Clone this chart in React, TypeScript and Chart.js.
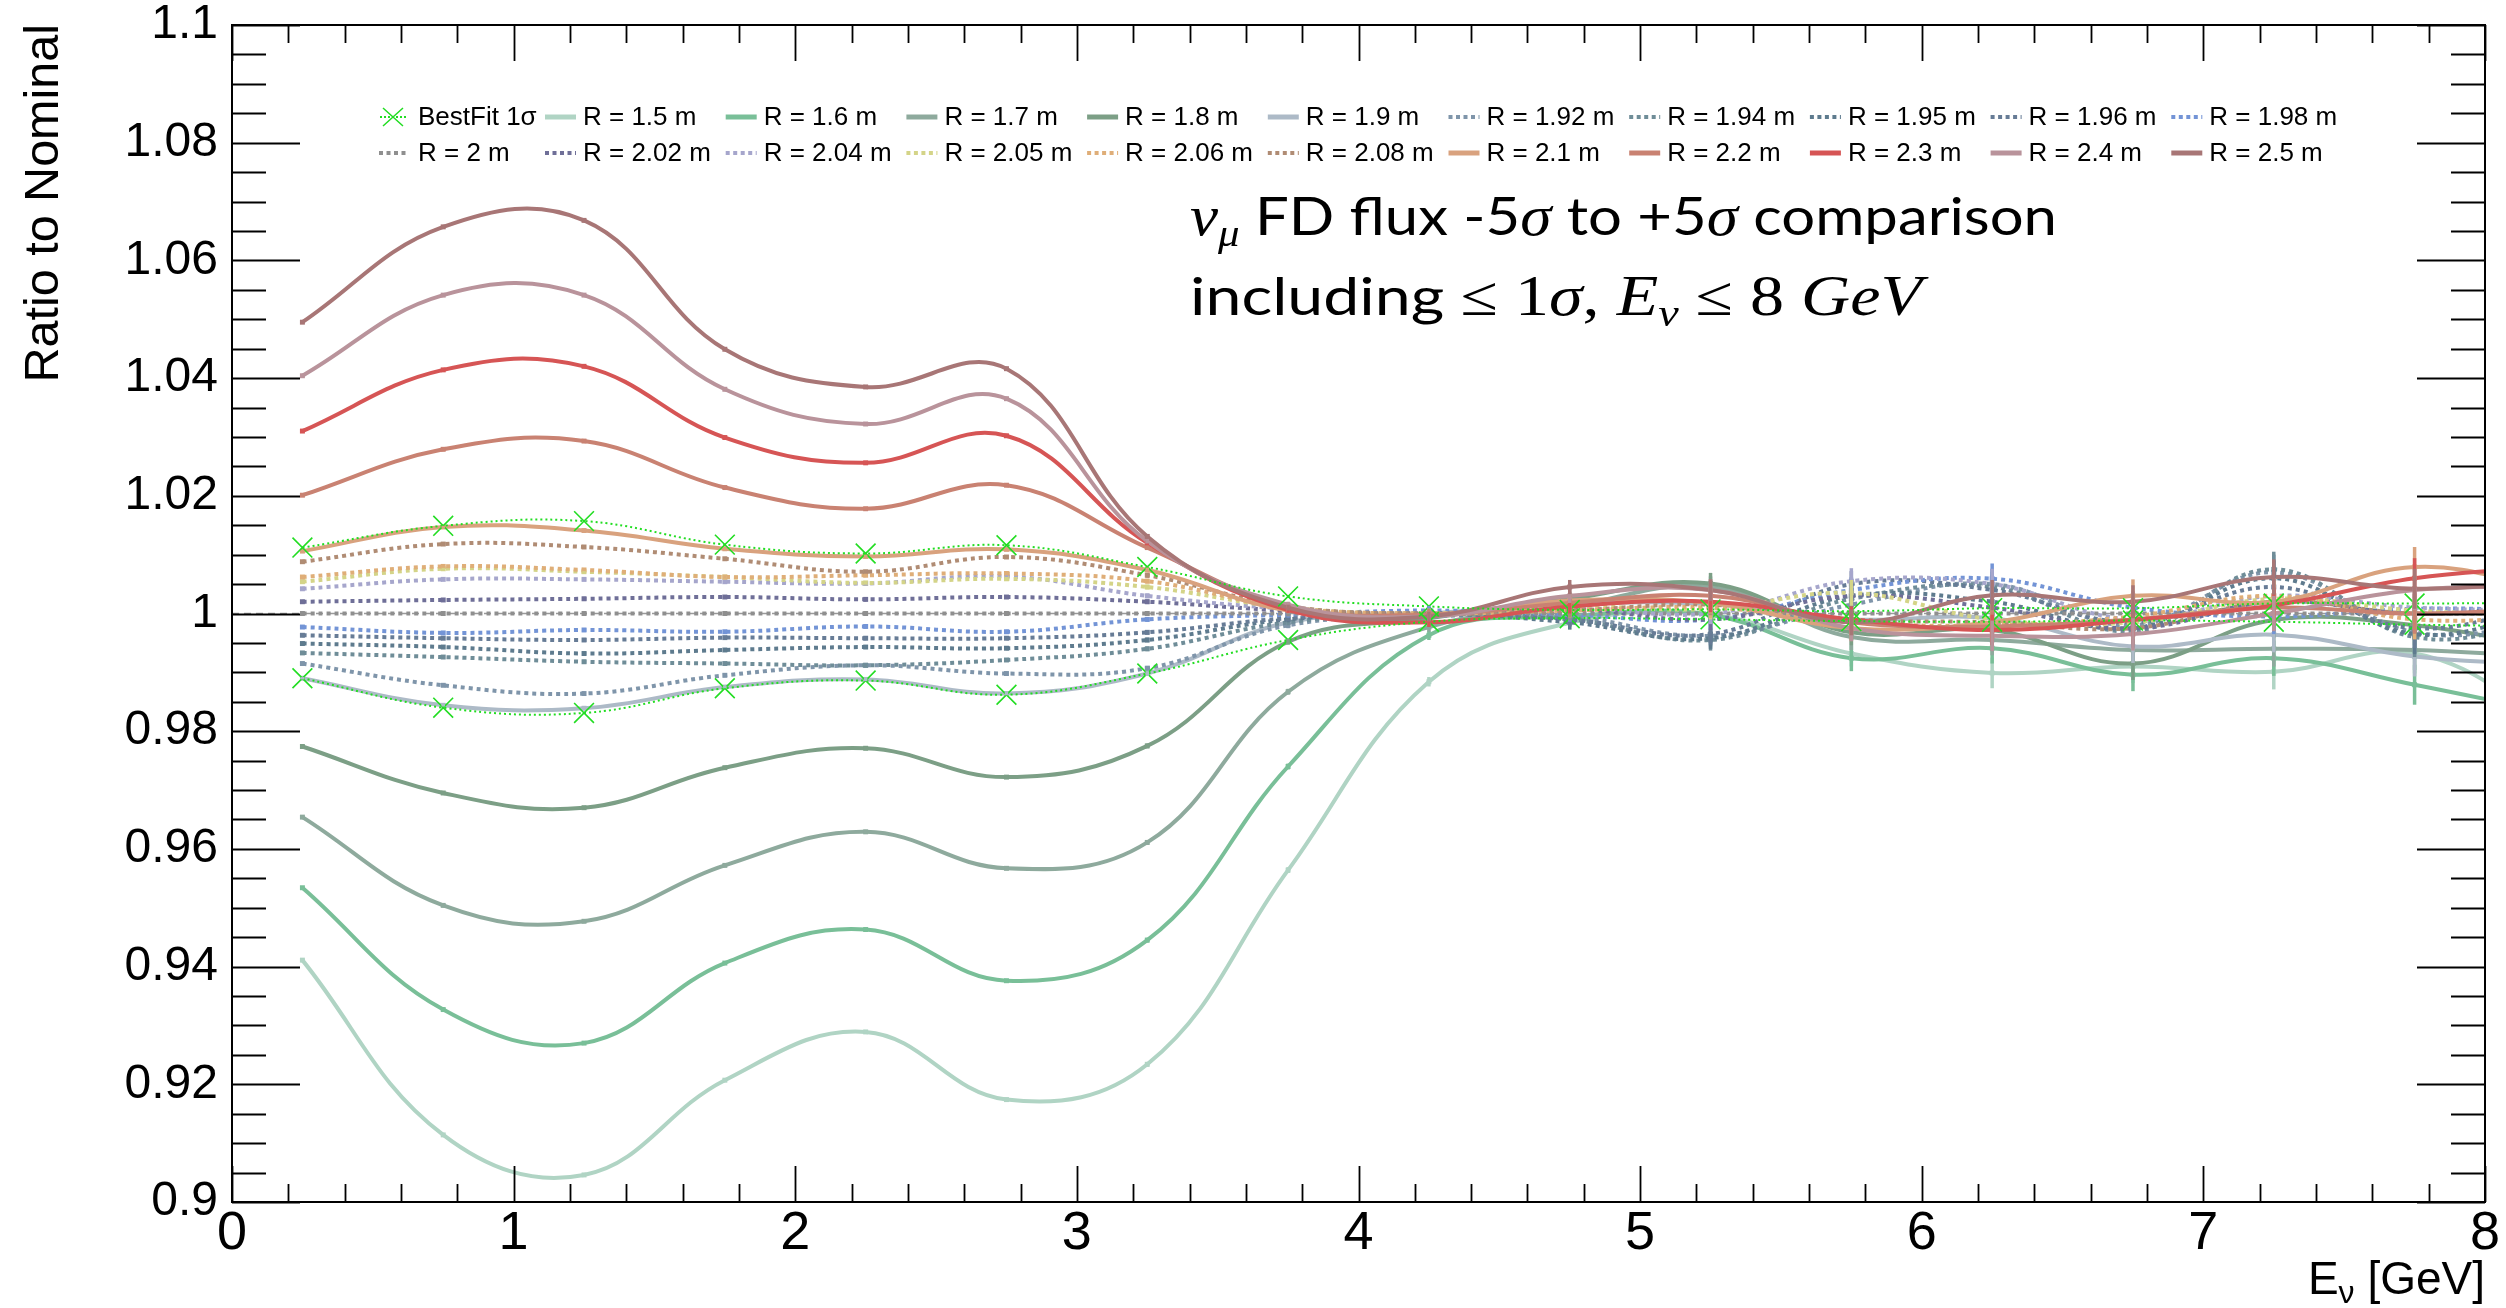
import React, { useEffect, useRef } from 'react';
import { Chart, registerables } from 'chart.js';

Chart.register(...registerables);

// ---------------- data ----------------
const E_BINS = [0.25, 0.75, 1.25, 1.75, 2.25, 2.75, 3.25, 3.75, 4.25, 4.75, 5.25, 5.75, 6.25, 6.75, 7.25, 7.75, 8.25];

const BESTFIT_UP = [1.0112, 1.0149, 1.0157, 1.0117, 1.0102, 1.0116, 1.0079, 1.0029, 1.0012, 1.0006, 1.0007, 1.0004, 1.0009, 1.0009, 1.0017, 1.0017, 1.0018];
const BESTFIT_LO = [0.9890, 0.9840, 0.9831, 0.9873, 0.9886, 0.9862, 0.9898, 0.9955, 0.9986, 0.9992, 0.9990, 0.9987, 0.9986, 0.9988, 0.9986, 0.9981, 0.9978];

const R150 = [0.9411, 0.9114, 0.9046, 0.9207, 0.9289, 0.9174, 0.9234, 0.9564, 0.9884, 0.9984, 0.9998, 0.9932, 0.9899, 0.9910, 0.9901, 0.9932, 0.9815];
const R160 = [0.9534, 0.9327, 0.9270, 0.9406, 0.9463, 0.9376, 0.9445, 0.9740, 0.9963, 0.9995, 0.9998, 0.9924, 0.9941, 0.9896, 0.9924, 0.9879, 0.9830];
const R170 = [0.9654, 0.9504, 0.9477, 0.9572, 0.9629, 0.9567, 0.9611, 0.9867, 0.9977, 1.0012, 1.0045, 0.9960, 0.9955, 0.9938, 0.9940, 0.9938, 0.9925];
const R180 = [0.9774, 0.9695, 0.9670, 0.9738, 0.9771, 0.9722, 0.9775, 0.9952, 0.9992, 1.0025, 1.0051, 0.9968, 0.9972, 0.9915, 0.9989, 0.9980, 0.9940];
const R190 = [0.9890, 0.9844, 0.9839, 0.9875, 0.9888, 0.9864, 0.9898, 0.9985, 1.0000, 1.0016, 1.0016, 0.9990, 0.9992, 0.9944, 0.9964, 0.9927, 0.9912];
const R192 = [0.9915, 0.9878, 0.9864, 0.9895, 0.9912, 0.9898, 0.9907, 0.9980, 0.9995, 0.9995, 0.9962, 1.0015, 1.0050, 0.9980, 1.0070, 0.9968, 0.9985];
const R194 = [0.9933, 0.9926, 0.9918, 0.9915, 0.9912, 0.9921, 0.9940, 0.9985, 0.9998, 0.9990, 0.9955, 1.0025, 1.0045, 0.9970, 1.0075, 0.9960, 0.9990];
const R195 = [0.9949, 0.9943, 0.9932, 0.9938, 0.9943, 0.9941, 0.9955, 0.9990, 1.0000, 0.9985, 0.9958, 1.0030, 1.0020, 0.9975, 1.0060, 0.9965, 1.0010];
const R196 = [0.9963, 0.9958, 0.9955, 0.9959, 0.9958, 0.9958, 0.9968, 0.9992, 1.0000, 0.9990, 0.9965, 1.0050, 1.0040, 0.9985, 1.0045, 0.9975, 1.0020];
const R198 = [0.9977, 0.9967, 0.9972, 0.9969, 0.9978, 0.9969, 0.9990, 0.9998, 1.0005, 0.9998, 0.9990, 1.0040, 1.0059, 1.0010, 0.9995, 1.0008, 1.0005];
const R200 = [1.0, 1.0, 1.0, 1.0, 1.0, 1.0, 1.0, 1.0, 1.0, 1.0, 1.0, 1.0, 1.0, 1.0, 1.0, 1.0, 1.0];
const R202 = [1.0020, 1.0023, 1.0025, 1.0028, 1.0024, 1.0028, 1.0020, 1.0005, 1.0000, 1.0008, 0.9990, 1.0030, 1.0010, 0.9975, 1.0020, 1.0000, 1.0015];
const R204 = [1.0042, 1.0058, 1.0058, 1.0054, 1.0051, 1.0063, 1.0030, 1.0008, 1.0000, 1.0010, 1.0000, 1.0055, 1.0050, 0.9990, 1.0030, 1.0010, 1.0005];
const R205 = [1.0054, 1.0076, 1.0071, 1.0062, 1.0052, 1.0059, 1.0045, 1.0010, 1.0000, 1.0012, 1.0008, 1.0035, 0.9990, 0.9985, 1.0025, 1.0005, 0.9995];
const R206 = [1.0062, 1.0080, 1.0074, 1.0062, 1.0065, 1.0068, 1.0055, 1.0010, 1.0000, 1.0005, 1.0010, 0.9985, 0.9980, 0.9995, 1.0030, 0.9990, 0.9995];
const R208 = [1.0088, 1.0118, 1.0113, 1.0093, 1.0071, 1.0096, 1.0065, 1.0012, 1.0000, 1.0005, 1.0015, 0.9990, 0.9985, 0.9975, 1.0020, 1.0000, 1.0010];
const R210 = [1.0106, 1.0147, 1.0141, 1.0110, 1.0097, 1.0109, 1.0074, 1.0005, 0.9998, 1.0022, 1.0018, 0.9975, 0.9985, 1.0030, 1.0020, 1.0079, 1.0040];
const R220 = [1.0201, 1.0279, 1.0293, 1.0214, 1.0178, 1.0218, 1.0112, 1.0012, 0.9998, 1.0018, 1.0030, 0.9985, 0.9978, 0.9990, 1.0010, 1.0000, 1.0010];
const R230 = [1.0310, 1.0414, 1.0420, 1.0299, 1.0256, 1.0302, 1.0120, 1.0006, 0.9985, 1.0012, 1.0020, 0.9990, 0.9972, 0.9989, 1.0014, 1.0060, 1.0080];
const R240 = [1.0404, 1.0541, 1.0541, 1.0381, 1.0322, 1.0365, 1.0123, 1.0015, 0.9995, 1.0030, 1.0040, 0.9975, 0.9962, 0.9965, 1.0000, 1.0040, 1.0045];
const R250 = [1.0495, 1.0657, 1.0668, 1.0449, 1.0385, 1.0416, 1.0131, 1.0010, 0.9995, 1.0045, 1.0040, 0.9985, 1.0031, 1.0020, 1.0062, 1.0042, 1.0055];

// statistical errors per energy bin
const ERRORS = [0.0002, 0.0002, 0.0002, 0.0002, 0.0003, 0.0003, 0.0004, 0.0005, 0.0008, 0.0012, 0.0018, 0.0022, 0.0026, 0.0028, 0.0030, 0.0034, 0.0036];

const NOMINAL_LINE_X = [0, 8];
const NOMINAL_LINE_Y = [1, 1];

const BESTFIT_LABEL = 'BestFit 1σ';
const SERIES_LABELS = [
  'R = 1.5 m', 'R = 1.6 m', 'R = 1.7 m', 'R = 1.8 m', 'R = 1.9 m', 'R = 1.92 m', 'R = 1.94 m', 'R = 1.95 m',
  'R = 1.96 m', 'R = 1.98 m', 'R = 2 m', 'R = 2.02 m', 'R = 2.04 m', 'R = 2.05 m', 'R = 2.06 m', 'R = 2.08 m',
  'R = 2.1 m', 'R = 2.2 m', 'R = 2.3 m', 'R = 2.4 m', 'R = 2.5 m',
];
const SERIES_VALUES = [
  R150, R160, R170, R180, R190, R192, R194, R195, R196, R198, R200,
  R202, R204, R205, R206, R208, R210, R220, R230, R240, R250,
];

const X_TICK_LABELS = ['0', '1', '2', '3', '4', '5', '6', '7', '8'];
const Y_AXIS_TITLE = 'Ratio to Nominal';

// ---------------- styles ----------------
const SERIES_COLORS = [
  '#b0d4c4', '#79bf98', '#8eaa9d', '#7c9f86', '#adbac7', '#7f95aa', '#6f8d98', '#5e7b8e',
  '#677c96', '#7394d6', '#8f8f8f', '#6f6f98', '#a6a6cc', '#d4d488', '#dfae78', '#b08c74',
  '#d9a27e', '#c98272', '#d65555', '#b9939b', '#a87676',
];
const SERIES_DOTTED = [
  false, false, false, false, false, true, true, true, true, true, true,
  true, true, true, true, true, false, false, false, false, false,
];
const GREEN = '#22dd22';
const FONT = '"Liberation Sans", Arial, sans-serif';

const rootPlugin = {
  id: 'rootStyle',
  afterDatasetsDraw(chart: any) {
    const ctx = chart.ctx;
    const xs = chart.scales.x;
    const ys = chart.scales.y;
    const { left, right, top, bottom } = chart.chartArea;
    ctx.save();
    ctx.beginPath();
    ctx.rect(left, top, right - left, bottom - top);
    ctx.clip();
    ctx.lineWidth = 3.5;
    ctx.setLineDash([]);
    SERIES_VALUES.forEach((vals, si) => {
      ctx.strokeStyle = SERIES_COLORS[si];
      vals.forEach((v, i) => {
        const px = xs.getPixelForValue(E_BINS[i]);
        const y1 = ys.getPixelForValue(v - ERRORS[i]);
        const y2 = ys.getPixelForValue(v + ERRORS[i]);
        ctx.beginPath();
        ctx.moveTo(px, y1);
        ctx.lineTo(px, y2);
        ctx.stroke();
      });
    });
    ctx.restore();
  },
  afterDraw(chart: any) {
    const ctx = chart.ctx;
    const xs = chart.scales.x;
    const ys = chart.scales.y;
    const { left, right, top, bottom } = chart.chartArea;
    ctx.save();
    // frame
    ctx.strokeStyle = '#000';
    ctx.lineWidth = 2;
    ctx.setLineDash([]);
    ctx.strokeRect(left, top, right - left, bottom - top);
    // y ticks (major 0.02, minor 0.005)
    ctx.lineWidth = 1.8;
    for (let k = 0; k <= 40; k++) {
      const v = ys.min + k * 0.005;
      const py = Math.round(ys.getPixelForValue(v)) + 0.5;
      const len = k % 4 === 0 ? 68 : 34;
      ctx.beginPath();
      ctx.moveTo(left, py);
      ctx.lineTo(left + len, py);
      ctx.moveTo(right, py);
      ctx.lineTo(right - len, py);
      ctx.stroke();
    }
    // x ticks (major 1, minor 0.2)
    for (let k = 0; k <= 40; k++) {
      const v = xs.min + k * 0.2;
      const px = Math.round(xs.getPixelForValue(v)) + 0.5;
      const len = k % 5 === 0 ? 36 : 18;
      ctx.beginPath();
      ctx.moveTo(px, bottom);
      ctx.lineTo(px, bottom - len);
      ctx.moveTo(px, top);
      ctx.lineTo(px, top + len);
      ctx.stroke();
    }

    // legend
    ctx.font = '26px ' + FONT;
    ctx.fillStyle = '#000';
    ctx.textBaseline = 'alphabetic';
    ctx.textAlign = 'left';
    const entries: any[] = [{ label: BESTFIT_LABEL, color: GREEN, bestfit: true }];
    SERIES_LABELS.forEach((l, i) => entries.push({ label: l, color: SERIES_COLORS[i], dotted: SERIES_DOTTED[i] }));
    entries.forEach((e, idx) => {
      const row = Math.floor(idx / 11);
      const col = idx % 11;
      const tx = col === 0 ? 418 : 583 + (col - 1) * 180.7;
      const base = row === 0 ? 125 : 161;
      const ly = base - 8;
      if (e.bestfit) {
        ctx.strokeStyle = GREEN;
        ctx.lineWidth = 2;
        ctx.setLineDash([2, 2]);
        ctx.beginPath();
        ctx.moveTo(380, ly);
        ctx.lineTo(407, ly);
        ctx.stroke();
        ctx.setLineDash([]);
        ctx.lineWidth = 1.5;
        ctx.beginPath();
        ctx.moveTo(383, ly - 9);
        ctx.lineTo(403, ly + 9);
        ctx.moveTo(403, ly - 9);
        ctx.lineTo(383, ly + 9);
        ctx.stroke();
      } else {
        const x0 = col === 0 ? 379 : tx - 38;
        const x1 = col === 0 ? 408 : tx - 7;
        ctx.strokeStyle = e.color;
        ctx.lineWidth = e.dotted ? 4 : 5;
        ctx.setLineDash(e.dotted ? [4, 3.5] : []);
        ctx.beginPath();
        ctx.moveTo(x0, ly);
        ctx.lineTo(x1, ly);
        ctx.stroke();
        ctx.setLineDash([]);
      }
      ctx.fillStyle = '#000';
      ctx.fillText(e.label, tx, base);
    });

    // annotation text
    const drawRuns = (runs: any[], x: number, baseline: number, target: number) => {
      let total = 0;
      runs.forEach((r) => { ctx.font = r.font; r.w = ctx.measureText(r.text).width; total += r.w; });
      const s = target / total;
      ctx.save();
      ctx.translate(x, baseline);
      ctx.scale(s, 1);
      let cx = 0;
      runs.forEach((r) => { ctx.font = r.font; ctx.fillText(r.text, cx, r.dy || 0); cx += r.w; });
      ctx.restore();
    };
    const LATO = '53px Lato, "Open Sans", sans-serif';
    const MI = 'italic 56px "Liberation Serif", serif';
    const MR = '56px "Liberation Serif", serif';
    const MS = 'italic 38px "Liberation Serif", serif';
    ctx.fillStyle = '#000';
    ctx.textAlign = 'left';
    drawRuns([
      { text: 'ν', font: MI },
      { text: 'μ', font: MS, dy: 11 },
      { text: ' FD flux -5', font: LATO },
      { text: 'σ', font: MI },
      { text: ' to +5', font: LATO },
      { text: 'σ', font: MI },
      { text: ' comparison', font: LATO },
    ], 1190, 235, 867);
    drawRuns([
      { text: 'including ', font: LATO },
      { text: '≤ 1', font: MR },
      { text: 'σ', font: MI },
      { text: ', ', font: MR },
      { text: 'E', font: MI },
      { text: 'ν', font: MS, dy: 11 },
      { text: ' ≤ 8 ', font: MR },
      { text: 'GeV', font: MI },
    ], 1190, 315, 732);

    // y axis title
    ctx.save();
    ctx.translate(58, 24);
    ctx.rotate(-Math.PI / 2);
    ctx.font = '48.5px ' + FONT;
    ctx.textAlign = 'right';
    ctx.fillText(Y_AXIS_TITLE, 0, 0);
    ctx.restore();

    // x axis title
    const xr = [
      { text: 'E', font: '46px ' + FONT, dy: 0 },
      { text: 'ν', font: '32px ' + FONT, dy: 9 },
      { text: ' [GeV]', font: '46px ' + FONT, dy: 0 },
    ];
    let tw = 0;
    xr.forEach((r: any) => { ctx.font = r.font; r.w = ctx.measureText(r.text).width; tw += r.w; });
    let cx = right - tw;
    xr.forEach((r: any) => { ctx.font = r.font; ctx.fillText(r.text, cx, 1294 + r.dy); cx += r.w; });

    ctx.restore();
  },
};

export default function App() {
  const canvasRef = useRef<HTMLCanvasElement | null>(null);

  useEffect(() => {
    const canvas = canvasRef.current;
    if (!canvas) return;

    const datasets: any[] = [];
    [BESTFIT_UP, BESTFIT_LO].forEach((vals) => {
      datasets.push({
        label: BESTFIT_LABEL,
        data: E_BINS.map((x, i) => ({ x, y: vals[i] })),
        borderColor: GREEN,
        borderWidth: 2,
        borderDash: [2, 3],
        pointStyle: 'crossRot',
        pointRadius: 14,
        pointBorderWidth: 1.6,
        pointBorderColor: GREEN,
        pointBackgroundColor: 'rgba(0,0,0,0)',
        tension: 0.4,
        fill: false,
      });
    });
    for (let i = SERIES_VALUES.length - 1; i >= 0; i--) {
      const vals = SERIES_VALUES[i];
      datasets.push({
        label: SERIES_LABELS[i],
        data: E_BINS.map((x, k) => ({ x, y: vals[k] })),
        borderColor: SERIES_COLORS[i],
        backgroundColor: SERIES_COLORS[i],
        borderWidth: 4,
        borderDash: SERIES_DOTTED[i] ? [4, 4] : [],
        pointStyle: 'rect',
        pointRadius: 3.5,
        pointBorderWidth: 0,
        pointBackgroundColor: SERIES_COLORS[i],
        tension: 0.4,
        fill: false,
      });
    }
    datasets.push({
      label: 'nominal',
      data: NOMINAL_LINE_X.map((x, i) => ({ x, y: NOMINAL_LINE_Y[i] })),
      borderColor: '#999999',
      borderWidth: 1.5,
      borderDash: [7, 5],
      pointRadius: 0,
      tension: 0,
      fill: false,
    });

    const chart = new Chart(canvas, {
      type: 'line',
      data: { datasets },
      options: {
        animation: false,
        responsive: true,
        maintainAspectRatio: false,
        devicePixelRatio: 1,
        events: [],
        layout: { padding: { top: 25, right: 21, left: 0, bottom: 0 } },
        plugins: {
          legend: { display: false },
          tooltip: { enabled: false },
          title: { display: false },
        },
        scales: {
          x: {
            type: 'linear',
            min: 0,
            max: 8,
            afterFit: (s: any) => {
              s.height = 106;
              s.paddingLeft = 0;
              s.paddingRight = 0;
            },
            ticks: {
              stepSize: 1,
              autoSkip: false,
              maxRotation: 0,
              padding: 5,
              color: '#000',
              font: { family: FONT, size: 54, lineHeight: 1 },
              callback: (v: any) => X_TICK_LABELS[Math.round(v)] ?? '',
            },
            grid: { display: false, drawTicks: false },
            border: { display: false },
          },
          y: {
            type: 'linear',
            min: 0.9,
            max: 1.1,
            afterFit: (s: any) => {
              s.width = 232;
              s.paddingTop = 0;
              s.paddingBottom = 0;
            },
            ticks: {
              stepSize: 0.02,
              padding: 14,
              color: '#000',
              font: { family: FONT, size: 48, lineHeight: 1 },
              callback: (v: any) => String(Number(Number(v).toFixed(2))),
            },
            grid: { display: false, drawTicks: false },
            border: { display: false },
          },
        },
      } as any,
      plugins: [rootPlugin],
    });
    return () => chart.destroy();
  }, []);

  return (
    <div style={{ position: 'absolute', left: 0, top: 0, width: 2506, height: 1308, background: '#fff' }}>
      <canvas ref={canvasRef} />
    </div>
  );
}
